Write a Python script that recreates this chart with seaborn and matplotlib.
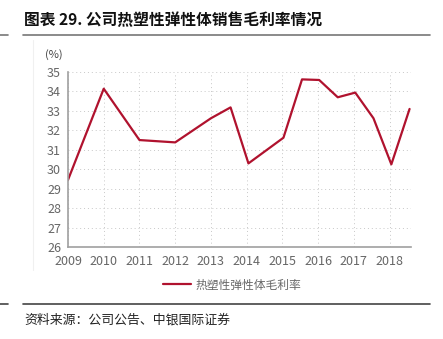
import matplotlib
matplotlib.use("Agg")
import matplotlib.pyplot as plt
import seaborn as sns
import pandas as pd
from matplotlib.lines import Line2D

sns.set_theme(style="white")
plt.rcParams['font.family'] = ['Noto Sans CJK SC', 'DejaVu Sans']

# Data
periods = [2009.0, 2010.0, 2011.0, 2012.0, 2013.0, 2013.55, 2014.05, 2015.03,
           2015.55, 2016.03, 2016.55, 2017.04, 2017.55, 2018.05, 2018.56]
margin = [29.45, 34.14, 31.50, 31.38, 32.62, 33.18, 30.30, 31.62,
          34.62, 34.59, 33.70, 33.94, 32.62, 30.25, 33.10]
year_ticks = [2009, 2010, 2011, 2012, 2013, 2014, 2015, 2016, 2017, 2018]
y_ticks = [26, 27, 28, 29, 30, 31, 32, 33, 34, 35]
series_name = "热塑性弹性体毛利率"
title = "图表 29. 公司热塑性弹性体销售毛利率情况"
source = "资料来源：公司公告、中银国际证券"

df = pd.DataFrame({"period": periods, "value": margin})

W, H = 443, 339
fig = plt.figure(figsize=(W / 100, H / 100), dpi=100)
ax = fig.add_axes([68 / W, 1 - 247 / H, (411 - 68) / W, (247 - 72) / H])

line_color = "#B0122E"
sns.lineplot(data=df, x="period", y="value", ax=ax, color=line_color, linewidth=1.6)

ax.set_xlim(2009, 2018.6)
ax.set_ylim(26, 35)
ax.set_xticks(year_ticks)
ax.set_xticklabels([str(y) for y in year_ticks])
ax.set_yticks(y_ticks)
ax.set_xlabel("")
ax.set_ylabel("")

ax.grid(True, color="#C8C8C8", linestyle=(0, (1, 3)), linewidth=0.7)
for s in ["top", "right"]:
    ax.spines[s].set_visible(False)
for s in ["left", "bottom"]:
    ax.spines[s].set_color("#A0A0A0")
    ax.spines[s].set_linewidth(1.2)
ax.tick_params(axis="both", colors="#A0A0A0", labelcolor="#666666", labelsize=9,
               length=3, width=1, direction="out", pad=2)
ax.tick_params(axis="x", pad=3)

# (%) unit label
fig.text(45 / W, 1 - 55 / H, "(%)", fontsize=8, color="#444444", va="center", ha="left")

# Title
fig.text(24 / W, 1 - 20 / H, title, fontsize=11.3, fontweight="bold", color="#111111",
         va="center", ha="left")
# Separator lines
fig.add_artist(Line2D([23 / W, 430 / W], [1 - 35 / H, 1 - 35 / H], color="#777777", lw=1.2))
fig.add_artist(Line2D([0, 8 / W], [1 - 35 / H, 1 - 35 / H], color="#777777", lw=1.2))
fig.add_artist(Line2D([23 / W, 430 / W], [1 - 304 / H, 1 - 304 / H], color="#444444", lw=1.2))
fig.add_artist(Line2D([0, 8 / W], [1 - 304 / H, 1 - 304 / H], color="#444444", lw=1.2))
# faint chart frame edge
fig.add_artist(Line2D([33 / W, 33 / W], [1 - 270 / H, 1 - 40 / H], color="#F0F0F0", lw=0.8))

# Legend
handle = Line2D([], [], color=line_color, lw=1.6)
fig.legend([handle], [series_name], loc="center", bbox_to_anchor=(232 / W, 1 - 285 / H),
           frameon=False, fontsize=8.5, labelcolor="#666666", handlelength=2.4,
           handletextpad=0.4)

# Source
fig.text(24 / W, 1 - 320 / H, source, fontsize=9.3, color="#222222", style="italic",
         va="center", ha="left")

fig.savefig("out.png", dpi=100)
